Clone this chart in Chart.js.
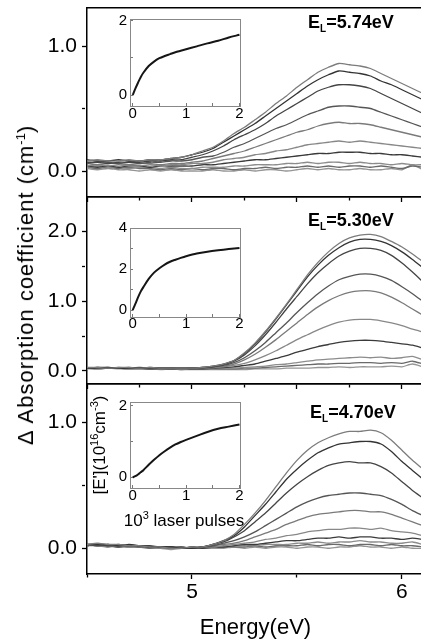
<!DOCTYPE html>
<html>
<head>
<meta charset="utf-8">
<script src="https://cdn.jsdelivr.net/npm/chart.js@4.4.1/dist/chart.umd.min.js"></script>
<style>
body { margin: 0; background: #fff; }
#fig { position: relative; width: 421px; height: 644px; overflow: hidden; font-family: "Liberation Sans", Arial, sans-serif; color: #000; }
#fig canvas { position: absolute; left: 0; }
.txt { position: absolute; white-space: nowrap; line-height: 1; }
.lab { font-weight: bold; font-size: 18px; left: 308px; }
.sub { font-size: 10px; position: relative; top: 4px; }
.sup { position: relative; }
</style>
</head>
<body>
<div id="fig">
  <canvas id="panel1" width="424" height="215" style="top:0px"></canvas>
  <canvas id="panel2" width="424" height="213" style="top:189px"></canvas>
  <canvas id="panel3" width="424" height="268" style="top:376px"></canvas>
  <canvas id="inset1" width="140" height="115" style="left:110px;top:10px"></canvas>
  <canvas id="inset2" width="140" height="115" style="left:110px;top:219px"></canvas>
  <canvas id="inset3" width="140" height="115" style="left:110px;top:392px"></canvas>

  <div class="txt" style="left:26px;top:285px;font-size:22px;letter-spacing:1px;transform:translate(-50%,-50%) rotate(-90deg)">&Delta; Absorption coefficient (cm<span class="sup" style="font-size:13px;top:-8px;letter-spacing:0">-1</span>)</div>
  <div class="txt lab" style="top:13px">E<span class="sub">L</span>=5.74eV</div>
  <div class="txt lab" style="top:211px">E<span class="sub">L</span>=5.30eV</div>
  <div class="txt lab" style="top:403px;left:310px">E<span class="sub">L</span>=4.70eV</div>
  <div class="txt" style="left:184px;top:520px;font-size:17px;transform:translate(-50%,-50%)">10<span class="sup" style="font-size:11px;top:-7px">3</span> laser pulses</div>
  <div class="txt" style="left:99px;top:445px;font-size:17px;transform:translate(-50%,-50%) rotate(-90deg)">[E'](10<span class="sup" style="font-size:11px;top:-7px">16</span>cm<span class="sup" style="font-size:11px;top:-7px">-3</span>)</div>
</div>

<script>
// DATA
let energy = [4.50, 4.55, 4.60, 4.65, 4.70, 4.75, 4.80, 4.85, 4.90, 4.95, 5.00, 5.05, 5.10, 5.15, 5.20, 5.25, 5.30,
              5.35, 5.40, 5.45, 5.50, 5.55, 5.60, 5.65, 5.70, 5.75, 5.80, 5.85, 5.90, 5.95, 6.00, 6.05, 6.10];

// EL = 5.74 eV
let panel1Curves = [
    [0.08,0.09,0.08,0.08,0.09,0.08,0.09,0.09,0.10,0.11,0.13,0.16,0.19,0.24,0.30,0.35,0.41,0.47,0.54,0.60,0.67,0.73,0.79,0.83,0.86,0.85,0.84,0.82,0.78,0.74,0.70,0.66,0.62],
    [0.09,0.08,0.08,0.09,0.08,0.08,0.09,0.09,0.10,0.11,0.13,0.15,0.18,0.23,0.28,0.33,0.38,0.44,0.50,0.56,0.62,0.68,0.73,0.77,0.80,0.79,0.78,0.76,0.72,0.69,0.65,0.61,0.57],
    [0.07,0.07,0.06,0.07,0.07,0.07,0.08,0.08,0.09,0.09,0.11,0.13,0.16,0.20,0.25,0.29,0.33,0.38,0.44,0.49,0.54,0.59,0.64,0.67,0.69,0.69,0.68,0.66,0.62,0.58,0.54,0.50,0.46],
    [0.06,0.07,0.07,0.06,0.07,0.06,0.07,0.07,0.08,0.08,0.09,0.11,0.12,0.15,0.19,0.22,0.26,0.30,0.34,0.37,0.41,0.45,0.48,0.51,0.52,0.52,0.51,0.50,0.47,0.44,0.41,0.38,0.35],
    [0.06,0.05,0.06,0.06,0.05,0.06,0.06,0.05,0.06,0.06,0.07,0.08,0.10,0.12,0.14,0.16,0.19,0.22,0.25,0.28,0.31,0.33,0.36,0.38,0.39,0.38,0.38,0.37,0.35,0.33,0.31,0.29,0.27],
    [0.04,0.05,0.04,0.05,0.04,0.04,0.05,0.04,0.05,0.05,0.06,0.06,0.07,0.09,0.10,0.11,0.13,0.14,0.16,0.17,0.19,0.21,0.22,0.23,0.24,0.23,0.24,0.23,0.22,0.21,0.20,0.19,0.18],
    [0.04,0.03,0.04,0.03,0.04,0.04,0.03,0.04,0.04,0.04,0.04,0.05,0.05,0.06,0.07,0.08,0.09,0.09,0.10,0.11,0.12,0.13,0.14,0.14,0.15,0.15,0.15,0.14,0.14,0.13,0.13,0.12,0.11],
    [0.03,0.04,0.03,0.03,0.02,0.03,0.03,0.02,0.03,0.02,0.02,0.03,0.03,0.03,0.04,0.04,0.05,0.05,0.05,0.06,0.06,0.07,0.06,0.07,0.07,0.06,0.07,0.06,0.06,0.05,0.06,0.05,0.05],
    [0.03,0.02,0.03,0.02,0.03,0.02,0.02,0.01,0.02,0.01,0.02,0.01,0.02,0.02,0.01,0.02,0.02,0.03,0.02,0.03,0.03,0.04,0.03,0.04,0.03,0.04,0.04,0.03,0.04,0.03,0.02,0.04,0.03],
    [0.02,0.01,0.02,0.01,0.01,0.00,0.01,0.00,0.01,0.00,0.00,0.00,0.01,0.00,0.00,0.01,0.00,0.01,0.01,0.00,0.01,0.02,0.01,0.02,0.01,0.01,0.02,0.01,0.01,0.02,0.01,0.05,0.01]
];

// EL = 5.30 eV
let panel2Curves = [
    [0.05,0.05,0.04,0.05,0.05,0.04,0.05,0.04,0.04,0.04,0.04,0.05,0.07,0.10,0.15,0.26,0.40,0.57,0.76,0.96,1.17,1.38,1.56,1.71,1.83,1.91,1.95,1.96,1.93,1.86,1.78,1.68,1.57],
    [0.04,0.05,0.05,0.04,0.04,0.05,0.04,0.04,0.04,0.04,0.04,0.05,0.07,0.10,0.15,0.25,0.39,0.56,0.75,0.95,1.15,1.35,1.52,1.66,1.77,1.85,1.89,1.89,1.86,1.80,1.71,1.60,1.48],
    [0.04,0.04,0.05,0.04,0.04,0.04,0.05,0.04,0.04,0.04,0.04,0.05,0.06,0.09,0.14,0.23,0.36,0.52,0.70,0.89,1.07,1.25,1.41,1.54,1.65,1.72,1.76,1.76,1.73,1.66,1.55,1.42,1.28],
    [0.04,0.05,0.04,0.04,0.05,0.04,0.04,0.04,0.04,0.04,0.04,0.04,0.06,0.08,0.12,0.19,0.29,0.41,0.55,0.69,0.84,0.98,1.11,1.22,1.31,1.36,1.39,1.39,1.36,1.30,1.21,1.11,1.00],
    [0.04,0.04,0.04,0.05,0.04,0.04,0.04,0.04,0.04,0.03,0.04,0.04,0.05,0.07,0.10,0.16,0.24,0.34,0.45,0.57,0.69,0.81,0.92,1.01,1.08,1.13,1.15,1.15,1.12,1.06,0.98,0.89,0.80],
    [0.04,0.04,0.04,0.04,0.04,0.04,0.04,0.03,0.04,0.03,0.04,0.04,0.05,0.06,0.08,0.11,0.16,0.22,0.29,0.37,0.45,0.52,0.59,0.65,0.70,0.73,0.74,0.74,0.72,0.69,0.65,0.60,0.56],
    [0.04,0.04,0.04,0.04,0.04,0.04,0.03,0.03,0.03,0.03,0.03,0.03,0.04,0.05,0.06,0.08,0.10,0.14,0.18,0.22,0.27,0.31,0.35,0.38,0.41,0.43,0.44,0.44,0.43,0.41,0.39,0.37,0.33],
    [0.04,0.04,0.04,0.04,0.03,0.04,0.03,0.03,0.03,0.03,0.03,0.03,0.03,0.04,0.04,0.05,0.06,0.07,0.09,0.10,0.12,0.14,0.16,0.17,0.18,0.19,0.20,0.19,0.20,0.18,0.19,0.21,0.16],
    [0.04,0.03,0.04,0.04,0.03,0.03,0.03,0.03,0.03,0.02,0.03,0.03,0.03,0.03,0.03,0.04,0.04,0.05,0.06,0.07,0.08,0.09,0.10,0.10,0.11,0.11,0.12,0.12,0.11,0.12,0.11,0.14,0.10],
    [0.03,0.03,0.04,0.03,0.03,0.03,0.03,0.02,0.03,0.02,0.02,0.02,0.02,0.02,0.02,0.02,0.03,0.03,0.03,0.04,0.04,0.04,0.05,0.05,0.06,0.05,0.06,0.06,0.06,0.07,0.06,0.10,0.06]
];

// EL = 4.70 eV
let panel3Curves = [
    [0.03,0.04,0.03,0.03,0.02,0.02,0.01,0.01,0.00,0.00,0.01,0.01,0.03,0.06,0.11,0.19,0.28,0.38,0.49,0.60,0.70,0.78,0.84,0.88,0.91,0.93,0.93,0.94,0.92,0.86,0.78,0.70,0.63],
    [0.03,0.03,0.03,0.02,0.03,0.02,0.01,0.01,0.01,0.00,0.00,0.01,0.03,0.06,0.10,0.17,0.26,0.35,0.45,0.55,0.63,0.70,0.76,0.80,0.83,0.84,0.85,0.85,0.83,0.77,0.69,0.62,0.55],
    [0.03,0.03,0.02,0.03,0.02,0.02,0.02,0.01,0.01,0.00,0.01,0.01,0.03,0.05,0.09,0.14,0.21,0.28,0.36,0.44,0.51,0.57,0.62,0.66,0.68,0.69,0.68,0.68,0.65,0.60,0.53,0.46,0.40],
    [0.03,0.02,0.03,0.02,0.02,0.02,0.01,0.01,0.01,0.01,0.00,0.01,0.02,0.04,0.06,0.09,0.13,0.18,0.23,0.28,0.33,0.37,0.40,0.42,0.43,0.44,0.44,0.43,0.42,0.39,0.35,0.30,0.26],
    [0.02,0.03,0.02,0.02,0.02,0.01,0.01,0.01,0.00,0.01,0.00,0.01,0.02,0.03,0.04,0.06,0.09,0.12,0.15,0.19,0.22,0.25,0.27,0.28,0.29,0.30,0.30,0.29,0.29,0.27,0.24,0.21,0.18],
    [0.03,0.02,0.02,0.02,0.01,0.02,0.01,0.00,0.01,0.00,0.00,0.01,0.01,0.02,0.03,0.04,0.05,0.07,0.08,0.10,0.11,0.13,0.14,0.15,0.15,0.16,0.16,0.15,0.16,0.14,0.13,0.12,0.10],
    [0.02,0.03,0.02,0.01,0.02,0.01,0.01,0.01,0.00,0.00,0.01,0.00,0.01,0.01,0.02,0.03,0.03,0.04,0.05,0.06,0.06,0.07,0.08,0.08,0.09,0.08,0.09,0.09,0.08,0.08,0.07,0.08,0.07],
    [0.03,0.02,0.02,0.02,0.01,0.01,0.01,0.00,0.00,0.01,0.00,0.01,0.01,0.01,0.01,0.02,0.02,0.03,0.03,0.03,0.04,0.04,0.05,0.04,0.05,0.05,0.06,0.05,0.05,0.04,0.04,0.05,0.03],
    [0.02,0.02,0.01,0.02,0.01,0.01,0.00,0.01,0.00,0.00,0.00,0.00,0.01,0.01,0.01,0.01,0.02,0.01,0.02,0.02,0.02,0.03,0.02,0.03,0.03,0.02,0.03,0.03,0.02,0.03,0.02,0.02,0.01],
    [0.02,0.03,0.02,0.01,0.01,0.01,0.00,0.00,-0.01,0.00,0.00,0.00,0.00,0.00,0.01,0.00,0.01,0.00,0.01,0.01,0.00,0.01,0.01,0.00,0.01,0.01,0.02,0.01,0.01,0.00,0.01,0.00,0.00]
];

// INSETS (10^3 laser pulses)
let pulses = [0, 0.05, 0.1, 0.15, 0.2, 0.3, 0.4, 0.5, 0.6, 0.7, 0.8, 0.9, 1.0, 1.2, 1.4, 1.6, 1.8, 2.0];
let inset1Values = [0.00, 0.17, 0.33, 0.48, 0.60, 0.78, 0.90, 0.99, 1.05, 1.10, 1.15, 1.19, 1.23, 1.31, 1.39, 1.46, 1.55, 1.62];
let inset2Values = [0.00, 0.30, 0.62, 0.90, 1.12, 1.52, 1.83, 2.04, 2.22, 2.36, 2.46, 2.55, 2.63, 2.76, 2.85, 2.92, 2.98, 3.03];
let inset3Values = [0.00, 0.03, 0.08, 0.14, 0.20, 0.35, 0.49, 0.62, 0.73, 0.83, 0.92, 0.99, 1.05, 1.16, 1.27, 1.36, 1.42, 1.48];

let lineColors = ["#7c7c7c", "#333333", "#444444", "#555555", "#7a7a7a", "#888888", "#3a3a3a", "#8c8c8c", "#6a6a6a", "#959595"];

Chart.defaults.font.family = "'Liberation Sans', Arial, sans-serif";
Chart.defaults.color = "#000";

function isMajor(value, step) {
    let r = value / step;
    return Math.abs(r - Math.round(r)) < 1e-6;
}

// MAIN PANELS
function mainPanel(id, curves, yMin, yMax, xStep, bottomPanel) {

    let datasets = curves.map((curve, i) => ({
        data: curve.map((v, j) => ({ x: energy[j], y: v })),
        borderColor: lineColors[i % lineColors.length],
        borderWidth: 1.3,
        pointRadius: 0,
        tension: 0.2,
        clip: 0
    }));

    return new Chart(document.getElementById(id), {
        type: "line",
        data: { datasets: datasets },
        options: {
            responsive: false,
            animation: false,
            events: [],
            layout: { padding: { top: 8, left: 0, right: 0, bottom: 0 }, autoPadding: false },
            plugins: { legend: { display: false }, tooltip: { enabled: false } },
            scales: {
                x: {
                    type: "linear",
                    position: "bottom",
                    min: 4.5,
                    max: 6.105,
                    ticks: {
                        stepSize: xStep,
                        display: bottomPanel,
                        autoSkip: false,
                        maxRotation: 0,
                        includeBounds: false,
                        padding: 1,
                        font: { size: 21 },
                        callback: v => Number.isInteger(v) ? String(v) : ""
                    },
                    grid: {
                        drawOnChartArea: false,
                        color: "#000",
                        tickLength: 5,
                        tickWidth: 1.3,
                        tickBorderDash: ctx => (ctx.tick && !isMajor(ctx.tick.value, xStep * 2)) ? [3, 20] : []
                    },
                    border: { color: "#000", width: 1.5 },
                    title: {
                        display: bottomPanel,
                        text: "Energy(eV)",
                        font: { size: 22 },
                        padding: { top: 0, bottom: 3 }
                    },
                    afterFit: a => { a.height = bottomPanel ? 70 : 18; a.paddingLeft = 0; a.paddingRight = 0; }
                },
                xTop: {
                    type: "linear",
                    position: "top",
                    min: 4.5,
                    max: 6.105,
                    ticks: { display: false },
                    grid: { drawOnChartArea: false, drawTicks: false },
                    border: { color: "#000", width: 1.5 },
                    afterFit: a => { a.height = 0; a.paddingLeft = 0; a.paddingRight = 0; }
                },
                y: {
                    type: "linear",
                    position: "left",
                    min: yMin,
                    max: yMax,
                    ticks: {
                        stepSize: 0.5,
                        includeBounds: false,
                        padding: 5,
                        font: { size: 21 },
                        callback: v => Number.isInteger(v) ? v.toFixed(1) : ""
                    },
                    grid: {
                        drawOnChartArea: false,
                        color: "#000",
                        tickLength: 5,
                        tickWidth: 1.3,
                        tickBorderDash: ctx => (ctx.tick && !isMajor(ctx.tick.value, 1)) ? [3, 20] : []
                    },
                    border: { color: "#000", width: 1.5 },
                    afterFit: a => { a.width = 87; a.paddingTop = 0; a.paddingBottom = 0; }
                }
            }
        }
    });
}

// INSETS
function insetPanel(id, values, yMin, yMax, padTop, xHeight, labelPad) {

    return new Chart(document.getElementById(id), {
        type: "line",
        data: {
            datasets: [{
                data: values.map((v, i) => ({ x: pulses[i], y: v })),
                borderColor: "#151515",
                borderWidth: 2,
                pointRadius: 0,
                tension: 0.3,
                clip: 0
            }]
        },
        options: {
            responsive: false,
            animation: false,
            events: [],
            layout: { padding: { top: padTop, left: 0, right: 10, bottom: 0 }, autoPadding: false },
            plugins: { legend: { display: false }, tooltip: { enabled: false } },
            scales: {
                x: {
                    type: "linear",
                    position: "bottom",
                    min: -0.05,
                    max: 2.01,
                    ticks: {
                        stepSize: 0.5,
                        autoSkip: false,
                        maxRotation: 0,
                        includeBounds: false,
                        padding: labelPad,
                        font: { size: 15 },
                        callback: v => Number.isInteger(v) ? String(v) : ""
                    },
                    grid: { drawOnChartArea: false, color: "#777", tickLength: -3 },
                    border: { color: "#888", width: 1 },
                    afterFit: a => { a.height = xHeight; a.paddingLeft = 0; a.paddingRight = 0; }
                },
                xTop: {
                    type: "linear",
                    position: "top",
                    min: -0.05,
                    max: 2.01,
                    ticks: { display: false },
                    grid: { drawOnChartArea: false, drawTicks: false },
                    border: { color: "#888", width: 1 },
                    afterFit: a => { a.height = 0; a.paddingLeft = 0; a.paddingRight = 0; }
                },
                y: {
                    type: "linear",
                    position: "left",
                    min: yMin,
                    max: yMax,
                    ticks: {
                        stepSize: 1,
                        includeBounds: false,
                        padding: 6,
                        font: { size: 15 },
                        callback: v => (v % 2 === 0) ? String(v) : ""
                    },
                    grid: { drawOnChartArea: false, color: "#777", tickLength: -3 },
                    border: { color: "#888", width: 1 },
                    afterFit: a => { a.width = 20; a.paddingTop = 0; a.paddingBottom = 0; }
                },
                yRight: {
                    type: "linear",
                    position: "right",
                    min: yMin,
                    max: yMax,
                    ticks: { display: false },
                    grid: { drawOnChartArea: false, drawTicks: false },
                    border: { color: "#888", width: 1 },
                    afterFit: a => { a.width = 0; a.paddingTop = 0; a.paddingBottom = 0; }
                }
            }
        }
    });
}

mainPanel("panel1", panel1Curves, -0.208, 1.304, 0.25, false);
mainPanel("panel2", panel2Curves, -0.187, 2.498, 0.25, false);
mainPanel("panel3", panel3Curves, -0.205, 1.308, 0.5, true);

insetPanel("inset1", inset1Values, -0.296, 2.046, 9, 19, 2);
insetPanel("inset2", inset2Values, -0.34, 4.01, 9, 17, 1);
insetPanel("inset3", inset3Values, -0.30, 2.11, 10, 19, 2);
</script>
</body>
</html>
